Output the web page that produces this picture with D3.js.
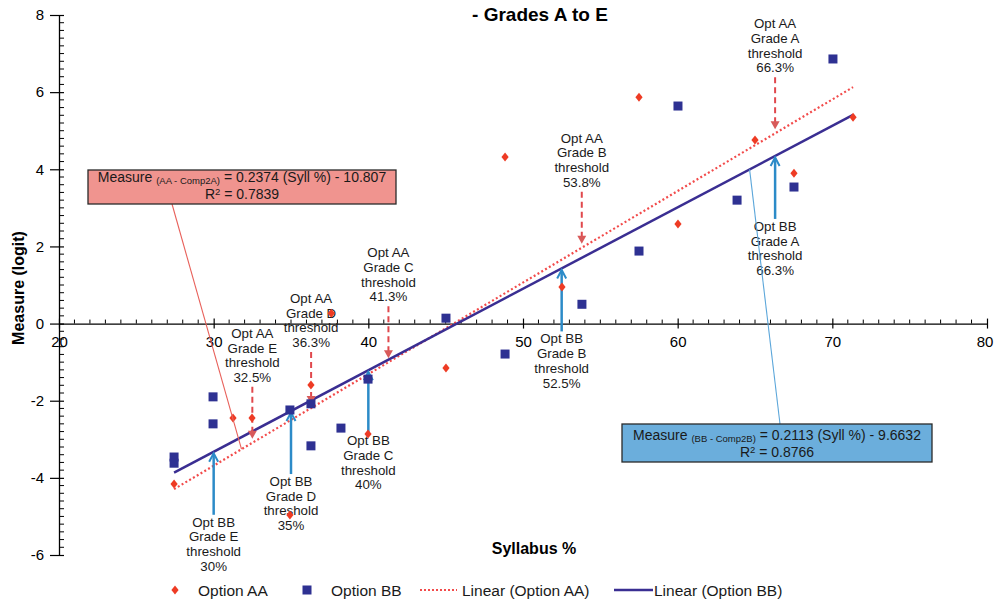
<!DOCTYPE html>
<html><head><meta charset="utf-8">
<script src="https://cdn.jsdelivr.net/npm/d3@7"></script>
<style>body{margin:0;background:#fff} svg{display:block} text{font-family:"Liberation Sans",Arial,sans-serif}</style>
</head><body><svg id="c" width="994" height="603"></svg>
<script>
// ---- data ----
const aaX = [27.44, 31.25, 32.48, 36.29, 34.93, 39.98, 37.6, 45.02, 48.84, 52.52, 57.5, 60.02, 65.0, 67.52, 71.34];
const aaY = [-4.16, -2.45, -2.45, -1.59, -4.96, -2.86, 0.27, -1.15, 4.32, 0.95, 5.87, 2.58, 4.76, 3.90, 5.35];
const bbX = [27.44, 27.44, 29.96, 29.96, 34.93, 36.29, 36.29, 38.23, 39.98, 45.02, 48.84, 53.81, 57.5, 60.02, 63.84, 67.52, 70.04];
const bbY = [-3.46, -3.62, -1.90, -2.60, -2.24, -2.08, -3.17, -2.71, -1.44, 0.14, -0.79, 0.50, 1.88, 5.64, 3.20, 3.54, 6.86];
const seriesNames = ["Option AA", "Option BB"];
const trendSlopes = [0.2374, 0.2113];
const trendIntercepts = [-10.807, -9.6632];
const trendR2 = [0.7839, 0.8766];
const trendSubs = ["(AA - Comp2A)", "(BB - Comp2B)"];
const grades = ["A", "B", "C", "D", "E"];
const thresholdsAA = [66.3, 53.8, 41.3, 36.3, 32.5];
const thresholdsBB = [66.3, 52.5, 40, 35, 30];
const xTicks = [20, 30, 40, 50, 60, 70, 80];
const yTicks = [-6, -4, -2, 0, 2, 4, 6, 8];
const leaderX = [31.8, 64.65];

// ---- setup ----
const svg = d3.select("#c");
const x = d3.scaleLinear().domain([20, 80]).range([59, 987]);
const y = d3.scaleLinear().domain([-6, 8]).range([555, 15]);
const fit = (i, v) => trendSlopes[i] * v + trendIntercepts[i];
const cAA = "#EE3B24", cBB = "#2E3192", cTrendAA = "#F24B4B", cTrendBB = "#3A2E92";
const cArrAA = "#E0484C", cArrBB = "#2C8BC8", txt = "#1a1a1a";

// title (second line visible)
svg.append("text").attr("x", 540).attr("y", 21).attr("text-anchor", "middle")
  .attr("font-size", 19).attr("font-weight", "bold").attr("fill", "#000").text("- Grades A to E");

// ---- axes ----
const gy = svg.append("g").attr("transform", "translate(59,0)")
  .call(d3.axisLeft(y).tickValues(yTicks).tickSizeInner(9).tickSizeOuter(0).tickPadding(6).tickFormat(d => String(d)));
gy.select(".domain").attr("stroke", "#000").attr("stroke-width", 1.3);
gy.selectAll(".tick line").attr("stroke", "#000").attr("stroke-width", 1.2).attr("x2", 5).attr("x1", -9);
gy.selectAll(".tick text").attr("font-size", 15).attr("fill", "#000").attr("font-family", "Liberation Sans, Arial, sans-serif");
const yMinor = d3.range(-6, 8.001, 0.2).filter(v => Math.abs(v / 2 - Math.round(v / 2)) > 0.01);
gy.selectAll(".ym").data(yMinor).join("line").attr("class", "ym")
  .attr("x1", 0).attr("x2", 5).attr("y1", d => y(d)).attr("y2", d => y(d)).attr("stroke", "#000").attr("stroke-width", 1);

const gx = svg.append("g").attr("transform", `translate(0,${y(0)})`)
  .call(d3.axisBottom(x).tickValues(xTicks).tickSizeInner(5).tickSizeOuter(0).tickPadding(8).tickFormat(d => String(d)));
gx.select(".domain").attr("stroke", "#000").attr("stroke-width", 1.3);
gx.selectAll(".tick line").attr("stroke", "#000").attr("stroke-width", 1.2).attr("y1", -5).attr("y2", 5);
gx.selectAll(".tick text").attr("font-size", 15).attr("fill", "#000").attr("font-family", "Liberation Sans, Arial, sans-serif")
  .attr("dx", d => d === 80 ? -2.5 : 0);
const xMinor = d3.range(20, 80.001, 1).filter(v => v % 10 !== 0);
gx.selectAll(".xm").data(xMinor).join("line").attr("class", "xm")
  .attr("x1", d => x(d)).attr("x2", d => x(d)).attr("y1", -4).attr("y2", 0).attr("stroke", "#000").attr("stroke-width", 1);

// axis titles
svg.append("text").attr("transform", "translate(24,288) rotate(-90)").attr("text-anchor", "middle")
  .attr("font-size", 16).attr("font-weight", "bold").attr("fill", "#000").text("Measure (logit)");
svg.append("text").attr("x", 534).attr("y", 554).attr("text-anchor", "middle")
  .attr("font-size", 16).attr("font-weight", "bold").attr("fill", "#000").text("Syllabus %");

// ---- trendlines ----
const xExt = d3.extent(aaX.concat(bbX));
const line = d3.line().x(d => x(d[0])).y(d => y(d[1]));
svg.append("path").attr("d", line(xExt.map(v => [v, fit(0, v)])))
  .attr("fill", "none").attr("stroke", cTrendAA).attr("stroke-width", 2.2).attr("stroke-dasharray", "2,2.4");
svg.append("path").attr("d", line(xExt.map(v => [v, fit(1, v)])))
  .attr("fill", "none").attr("stroke", cTrendBB).attr("stroke-width", 2.5);

// ---- threshold annotations ----
const lh = 14.7;
thresholdsAA.forEach((t, i) => {
  const cx = x(t), ly = y(fit(0, t));
  const g = svg.append("g");
  const lines = ["Opt AA", "Grade " + grades[i], "threshold", t + "%"];
  g.selectAll("text").data(lines).join("text").attr("x", cx).attr("y", (d, k) => ly - 105 + k * lh)
    .attr("text-anchor", "middle").attr("font-size", 13.3).attr("fill", txt).text(d => d);
  g.append("line").attr("x1", cx).attr("x2", cx).attr("y1", ly - 56).attr("y2", ly - 11)
    .attr("stroke", cArrAA).attr("stroke-width", 2).attr("stroke-dasharray", "6,4");
  g.append("path").attr("d", `M${cx - 4.5},${ly - 12}L${cx + 4.5},${ly - 12}L${cx},${ly - 4}Z`).attr("fill", "#D85A5A");
});
thresholdsBB.forEach((t, i) => {
  const cx = x(t), ly = y(fit(1, t));
  const g = svg.append("g");
  const lines = ["Opt BB", "Grade " + grades[i], "threshold", t + "%"];
  g.selectAll("text").data(lines).join("text").attr("x", cx).attr("y", (d, k) => ly + 75 + k * lh)
    .attr("text-anchor", "middle").attr("font-size", 13.3).attr("fill", txt).text(d => d);
  g.append("line").attr("x1", cx).attr("x2", cx).attr("y1", ly + 63).attr("y2", ly + 2)
    .attr("stroke", cArrBB).attr("stroke-width", 2.5);
  g.append("path").attr("d", `M${cx - 4.5},${ly + 10}L${cx},${ly + 1.5}L${cx + 4.5},${ly + 10}`)
    .attr("fill", "none").attr("stroke", cArrBB).attr("stroke-width", 2);
});

// ---- markers ----
const diamond = "M0,-4.5L3.6,0L0,4.5L-3.6,0Z";
svg.append("g").selectAll("rect").data(bbX.map((v, i) => [v, bbY[i]])).join("rect")
  .attr("x", d => x(d[0]) - 4.5).attr("y", d => y(d[1]) - 4.5).attr("width", 9).attr("height", 9).attr("fill", cBB);
svg.append("g").selectAll("path").data(aaX.map((v, i) => [v, aaY[i]])).join("path")
  .attr("d", diamond).attr("transform", d => `translate(${x(d[0])},${y(d[1])})`).attr("fill", cAA);

// ---- equation boxes ----
const boxes = [
  {bx: 88, by: 170, bw: 308, bh: 34, fill: "#F0948F", lead: "#E8605A", sx: 172, sy: 204, l1: 181.5, l2: 198.5},
  {bx: 622, by: 424, bw: 310, bh: 38, fill: "#6BAEDC", lead: "#5BA6DA", sx: 780, sy: 424, l1: 439.5, l2: 456.5}
];
boxes.forEach((b, i) => {
  svg.append("line").attr("x1", b.sx).attr("y1", b.sy).attr("x2", x(leaderX[i])).attr("y2", y(fit(i, leaderX[i])))
    .attr("stroke", b.lead).attr("stroke-width", 1.1);
  svg.append("rect").attr("x", b.bx).attr("y", b.by).attr("width", b.bw).attr("height", b.bh)
    .attr("fill", b.fill).attr("stroke", "#2a2a2a").attr("stroke-width", 1.3);
  const cx = b.bx + b.bw / 2;
  const t1 = svg.append("text").attr("x", cx).attr("y", b.l1).attr("text-anchor", "middle").attr("font-size", 14).attr("fill", txt);
  t1.append("tspan").text("Measure ");
  t1.append("tspan").attr("font-size", 9.5).attr("dy", 2).text(trendSubs[i]);
  t1.append("tspan").attr("dy", -2).text(` = ${trendSlopes[i]} (Syll %) - ${Math.abs(trendIntercepts[i])}`);
  const t2 = svg.append("text").attr("x", cx).attr("y", b.l2).attr("text-anchor", "middle").attr("font-size", 14).attr("fill", txt);
  t2.append("tspan").text("R");
  t2.append("tspan").attr("font-size", 9.5).attr("dy", -4).text("2");
  t2.append("tspan").attr("dy", 4).text(" = " + trendR2[i]);
});

// ---- legend ----
const ly0 = 590;
const lg = svg.append("g");
lg.append("path").attr("d", diamond).attr("transform", `translate(175,${ly0})`).attr("fill", cAA);
lg.append("text").attr("x", 198).attr("y", ly0 + 5.5).attr("font-size", 15.5).attr("fill", txt).text(seriesNames[0]);
lg.append("rect").attr("x", 302.5).attr("y", ly0 - 4.5).attr("width", 9).attr("height", 9).attr("fill", cBB);
lg.append("text").attr("x", 331).attr("y", ly0 + 5.5).attr("font-size", 15.5).attr("fill", txt).text(seriesNames[1]);
lg.append("line").attr("x1", 420).attr("x2", 457).attr("y1", ly0).attr("y2", ly0)
  .attr("stroke", cTrendAA).attr("stroke-width", 2).attr("stroke-dasharray", "2,2");
lg.append("text").attr("x", 462).attr("y", ly0 + 5.5).attr("font-size", 15.5).attr("fill", txt).text(`Linear (${seriesNames[0]})`);
lg.append("line").attr("x1", 614).attr("x2", 653).attr("y1", ly0).attr("y2", ly0)
  .attr("stroke", cTrendBB).attr("stroke-width", 2.5);
lg.append("text").attr("x", 654).attr("y", ly0 + 5.5).attr("font-size", 15.5).attr("fill", txt).text(`Linear (${seriesNames[1]})`);
</script></body></html>
